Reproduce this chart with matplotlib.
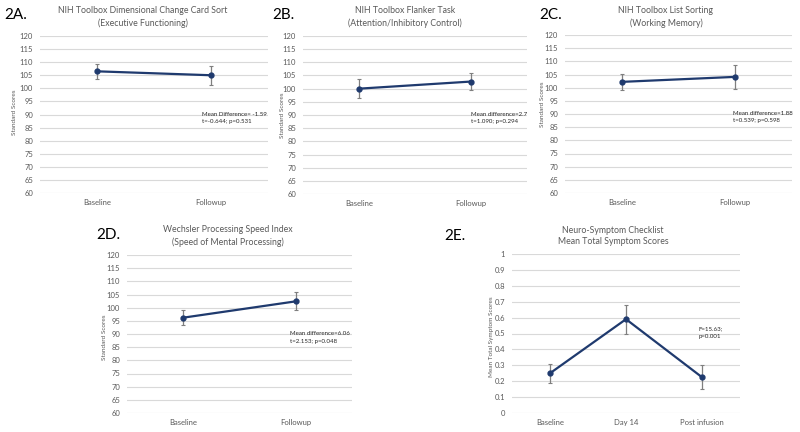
import matplotlib
matplotlib.use("Agg")
import matplotlib.pyplot as plt
import numpy as np

plt.rcParams['font.family'] = ['Lato', 'DejaVu Sans']

W, H = 800, 432

# ---- data ----
cats2 = ["Baseline", "Followup"]
cats3 = ["Baseline", "Day 14", "Post infusion"]

a_vals = [106.5, 105.0]
a_err = [2.8, 3.7]
b_vals = [100.0, 102.7]
b_err = [3.6, 3.2]
c_vals = [102.2, 104.1]
c_err = [3.0, 4.5]
d_vals = [96.2, 102.4]
d_err = [2.8, 3.4]
e_vals = [0.25, 0.59, 0.225]
e_err = [0.06, 0.09, 0.075]

score_ticks = list(range(60, 121, 5))
e_ticks = [0, 0.1, 0.2, 0.3, 0.4, 0.5, 0.6, 0.7, 0.8, 0.9, 1.0]
e_ticklabels = ["0", "0.1", "0.2", "0.3", "0.4", "0.5", "0.6", "0.7", "0.8", "0.9", "1"]

LINE = "#1f3a6e"
GRID = "#d9d9d9"
TXT = "#595959"

fig = plt.figure(figsize=(W / 100, H / 100), dpi=100)
fig.patch.set_facecolor("white")


def px_axes(x0, y0, x1, y1):
    return fig.add_axes([x0 / W, 1 - y1 / H, (x1 - x0) / W, (y1 - y0) / H])


def ftext(x, y, s, **kw):
    fig.text(x / W, 1 - y / H, s, **kw)


def panel(box, cats, vals, errs, ticks, ticklabels, ylim, ylabel, ylab_xy,
          title, title_xy, tag, tag_xy, note, note_xy):
    ax = px_axes(*box)
    x = np.arange(len(cats))
    ax.errorbar(x, vals, yerr=errs, color=LINE, lw=1.6, marker='o', ms=3.5,
                ecolor="#7f7f7f", elinewidth=0.9, capsize=1.5, capthick=0.8, zorder=3)
    ax.set_xlim(-0.5, len(cats) - 0.5)
    ax.set_ylim(*ylim)
    ax.set_yticks(ticks)
    ax.set_yticklabels(ticklabels)
    ax.set_xticks(x)
    ax.set_xticklabels(cats)
    ax.tick_params(axis='both', length=0, labelsize=5.5, colors=TXT, pad=5)
    ax.tick_params(axis='x', pad=4)
    ax.grid(axis='y', color=GRID, lw=0.8)
    ax.set_axisbelow(True)
    for s in ax.spines.values():
        s.set_visible(False)
    ftext(ylab_xy[0], ylab_xy[1], ylabel, rotation=90, ha='center', va='center',
          fontsize=4.6, color=TXT)
    ftext(title_xy[0], title_xy[1], title, ha='center', va='center',
          fontsize=6.3, color=TXT, linespacing=1.35)
    ftext(tag_xy[0], tag_xy[1], tag, ha='left', va='center', fontsize=11, color="black")
    ax.text(note_xy[0], note_xy[1], note, ha='left', va='center', fontsize=4.4,
            color="#262626", linespacing=1.55)
    return ax


panel((40, 36, 268, 193), cats2, a_vals, a_err, score_ticks, [str(t) for t in score_ticks],
      (60, 120), "Standard Scores", (14, 112),
      "NIH Toolbox Dimensional Change Card Sort\n(Executive Functioning)", (143, 17),
      "2A.", (4, 15), "Mean Difference= -1.59\nt=-0.644; p=0.531", (0.92, 88.8))

panel((303, 36, 527, 194), cats2, b_vals, b_err, score_ticks, [str(t) for t in score_ticks],
      (60, 120), "Standard Scores", (282, 115),
      "NIH Toolbox Flanker Task\n(Attention/Inhibitory Control)", (405, 17),
      "2B.", (272, 15), "Mean difference=2.7\nt=1.090; p=0.294", (1.0, 89.0))

panel((565, 35, 792, 193), cats2, c_vals, c_err, score_ticks, [str(t) for t in score_ticks],
      (60, 120), "Standard Scores", (542, 104),
      "NIH Toolbox List Sorting\n(Working Memory)", (666, 17),
      "2C.", (539, 15), "Mean difference=1.88\nt=0.539; p=0.598", (0.98, 88.8))

panel((127, 255, 352, 413), cats2, d_vals, d_err, score_ticks, [str(t) for t in score_ticks],
      (60, 120), "Standard Scores", (105, 337),
      "Wechsler Processing Speed Index\n(Speed of Mental Processing)", (228, 236),
      "2D.", (96, 235), "Mean difference=6.06\nt=2.153; p=0.048", (0.95, 88.7))

panel((512, 254, 740, 413), cats3, e_vals, e_err, e_ticks, e_ticklabels,
      (0, 1), "Mean Total Symptom Scores", (491, 337),
      "Neuro-Symptom Checklist\nMean Total Symptom Scores", (613, 236),
      "2E.", (444, 236), "F=15.63;\np=0.001", (1.95, 0.505))

fig.savefig("out.png", dpi=100, facecolor="white")
